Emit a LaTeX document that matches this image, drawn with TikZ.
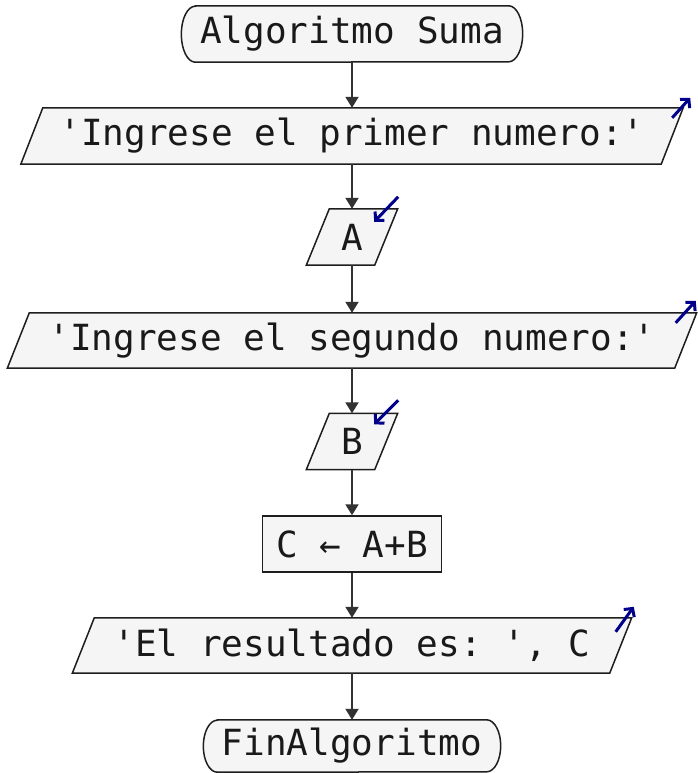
\documentclass[tikz,border=0pt]{standalone}
\usepackage{fontspec}
\setmonofont{DejaVu Sans Mono}
\usetikzlibrary{arrows.meta,backgrounds,calc}
\definecolor{boxfill}{RGB}{245,245,245}
\definecolor{edgec}{RGB}{30,30,30}
\definecolor{flowc}{RGB}{50,50,50}
\definecolor{navyc}{RGB}{0,0,139}
\begin{document}
\begin{tikzpicture}[x=1pt,y=1pt,
  txt/.style={font=\ttfamily\fontsize{36}{40}\selectfont, inner sep=0pt, text=black!90},
  outline/.style={draw=edgec, fill=boxfill, line width=1.5pt},
  flow/.style={draw=flowc, line width=2pt, -{Triangle[length=11pt,width=13pt]}},
  io/.style={draw=navyc, line width=3pt, -{Straight Barb[length=6pt,width=13pt]}}]
\useasboundingbox (0,0) rectangle (698,-773);
\node[txt, minimum width=341, minimum height=56] (s) at (352,-34) {Algoritmo Suma};
\node[txt, minimum width=640, minimum height=56] (p1) at (352,-136) {'Ingrese el primer numero:'};
\node[txt, minimum width=68, minimum height=56] (a) at (352,-237) {A};
\node[txt, minimum width=667, minimum height=55] (p2) at (352,-340.5) {'Ingrese el segundo numero:'};
\node[txt, minimum width=68, minimum height=56] (b) at (352,-441.5) {B};
\node[txt, outline, minimum width=179, minimum height=56] (c) at (352,-544) {C ← A+B};
\node[txt, minimum width=537, minimum height=55] (p3) at (352,-645.5) {'El resultado es: ', C};
\node[txt, minimum width=297, minimum height=52] (e) at (352,-746) {FinAlgoritmo};
\begin{scope}[on background layer]
\draw[outline] ([xshift=14]s.north west) -- ([xshift=-14]s.north east)
  arc[start angle=90,end angle=-90,x radius=14,y radius=28]
  -- ([xshift=14]s.south west)
  arc[start angle=270,end angle=90,x radius=14,y radius=28] -- cycle;
\draw[outline] ([xshift=14]e.north west) -- ([xshift=-14]e.north east)
  arc[start angle=90,end angle=-90,x radius=14,y radius=26]
  -- ([xshift=14]e.south west)
  arc[start angle=270,end angle=90,x radius=14,y radius=26] -- cycle;
\foreach \n/\sl in {p1/11,a/11.5,p2/11,b/11.5,p3/11}
  \draw[outline] ([xshift=\sl]\n.north west) -- ([xshift=\sl]\n.north east)
    -- ([xshift=-\sl]\n.south east) -- ([xshift=-\sl]\n.south west) -- cycle;
\end{scope}
\draw[flow] (s) -- (p1);
\draw[flow] (p1) -- (a);
\draw[flow] (a) -- (p2);
\draw[flow] (p2) -- (b);
\draw[flow] (b) -- (c);
\draw[flow] (c) -- (p3);
\draw[flow] (p3) -- (e);
\draw[io] ($(p1.north east)+(0,-10)$) -- ($(p1.north east)+(18,10)$);
\draw[io] ($(p2.north east)+(-10,-10)$) -- ($(p2.north east)+(10,12)$);
\draw[io] ($(p3.north east)+(-5,-14)$) -- ($(p3.north east)+(13,11)$);
\draw[io] ($(a.north east)+(12,12)$) -- ($(a.north east)+(-12,-13)$);
\draw[io] ($(b.north east)+(12,13)$) -- ($(b.north east)+(-12,-11)$);
\end{tikzpicture}
\end{document}
